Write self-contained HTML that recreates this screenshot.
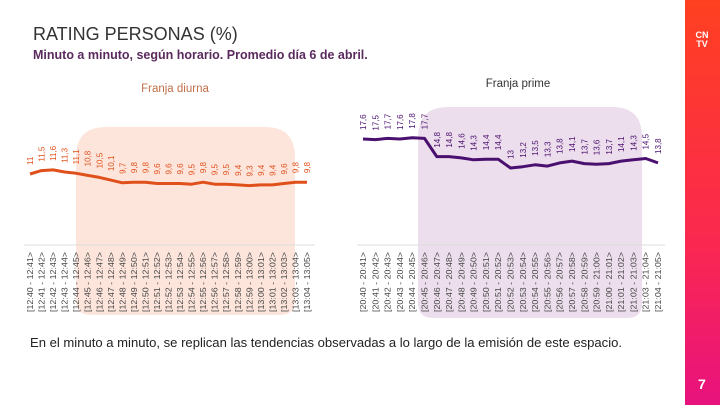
<!DOCTYPE html>
<html><head><meta charset="utf-8"><style>
body{margin:0;width:720px;height:405px;overflow:hidden;background:#fff;font-family:"Liberation Sans",sans-serif;}
svg{display:block}
</style></head><body>
<svg id="c" width="720" height="405" xmlns="http://www.w3.org/2000/svg">
<defs><linearGradient id="g" x1="0" y1="0" x2="0" y2="1"><stop offset="0" stop-color="#ff4020"/><stop offset="0.6" stop-color="#fa2850"/><stop offset="1" stop-color="#e8127e"/></linearGradient></defs>
<rect x="685" y="0" width="35" height="405" fill="url(#g)"/>
<text x="702" y="38" font-size="9" font-weight="bold" fill="#fff" text-anchor="middle">CN</text>
<text x="702" y="47" font-size="9" font-weight="bold" fill="#fff" text-anchor="middle">TV</text>
<text x="698" y="389" font-size="14" font-weight="bold" fill="#fff">7</text>
<text x="33" y="40" font-size="18" fill="#333">RATING PERSONAS (%)</text>
<text x="33" y="59" font-size="12.5" font-weight="bold" fill="#5a2a5e">Minuto a minuto, según horario. Promedio día 6 de abril.</text>
<text x="175" y="92" font-size="11.5" fill="#c0704a" text-anchor="middle">Franja diurna</text>
<text x="518" y="87" font-size="11.5" fill="#333" text-anchor="middle">Franja prime</text>
<path d="M76,315 V157 Q76,127 106,127 H265 Q295,127 295,157 V300 Q295,315 280,315 H91 Q76,315 76,300 Z" fill="#fde5dc"/>
<path d="M418,318 V137 Q418,107 448,107 H612 Q642,107 642,137 V303 Q642,318 627,318 H433 Q418,318 418,303 Z" fill="#ecdeec"/>
<line x1="24" y1="245" x2="315" y2="245" stroke="#ddd"/>
<line x1="357" y1="245" x2="665" y2="245" stroke="#ddd"/>
<text x="30" y="347" font-size="12.5" fill="#222" textLength="592" lengthAdjust="spacingAndGlyphs">En el minuto a minuto, se replican las tendencias observadas a lo largo de la emisión de este espacio.</text>
<g id="day"></g><g id="prime"></g>
</svg>
<script>
const dayCats=["12:40 - 12:41","12:41 - 12:42","12:42 - 12:43","12:43 - 12:44","12:44 - 12:45","12:45 - 12:46","12:46 - 12:47","12:47 - 12:48","12:48 - 12:49","12:49 - 12:50","12:50 - 12:51","12:51 - 12:52","12:52 - 12:53","12:53 - 12:54","12:54 - 12:55","12:55 - 12:56","12:56 - 12:57","12:57 - 12:58","12:58 - 12:59","12:59 - 13:00","13:00 - 13:01","13:01 - 13:02","13:02 - 13:03","13:03 - 13:04","13:04 - 13:05"];
const dayVals=[11,11.5,11.6,11.3,11.1,10.8,10.5,10.1,9.7,9.8,9.8,9.6,9.6,9.6,9.5,9.8,9.5,9.5,9.4,9.3,9.4,9.4,9.6,9.8,9.8];
const primeCats=["20:40 - 20:41","20:41 - 20:42","20:42 - 20:43","20:43 - 20:44","20:44 - 20:45","20:45 - 20:46","20:46 - 20:47","20:47 - 20:48","20:48 - 20:49","20:49 - 20:50","20:50 - 20:51","20:51 - 20:52","20:52 - 20:53","20:53 - 20:54","20:54 - 20:55","20:55 - 20:56","20:56 - 20:57","20:57 - 20:58","20:58 - 20:59","20:59 - 21:00","21:00 - 21:01","21:01 - 21:02","21:02 - 21:03","21:03 - 21:04","21:04 - 21:05"];
const primeVals=[17.6,17.5,17.7,17.6,17.8,17.7,14.8,14.8,14.6,14.3,14.4,14.4,13,13.2,13.5,13.3,13.8,14.1,13.7,13.6,13.7,14.1,14.3,14.5,13.8];
const NS="http://www.w3.org/2000/svg";
function draw(gid,cats,vals,x0,x1,vRef,yRef,pxPer,color,name){
  const g=document.getElementById(gid);
  const n=cats.length,step=(x1-x0)/(n-1);
  const xf=i=>x0+i*step, yf=v=>yRef-(v-vRef)*pxPer;
  let d="";
  vals.forEach((v,i)=>{d+=(i?"L":"M")+xf(i).toFixed(1)+","+yf(v).toFixed(1);});
  const p=document.createElementNS(NS,"path");
  p.setAttribute("d",d);p.setAttribute("fill","none");p.setAttribute("stroke",color);p.setAttribute("stroke-width","3");p.setAttribute("stroke-linejoin","round");
  
  
  g.appendChild(p);
  vals.forEach((v,i)=>{
    const t=document.createElementNS(NS,"text");
    const x=xf(i)+3,y=yf(v)-9;
    t.setAttribute("transform","translate("+x+","+y+") rotate(-90)");
    t.setAttribute("font-size","8");t.setAttribute("fill",color);
    t.textContent=String(v).replace(".",",");
    
    
    g.appendChild(t);
  });
  cats.forEach((c,i)=>{
    const t=document.createElementNS(NS,"text");
    const x=xf(i)+3;
    t.setAttribute("transform","translate("+x+",312) rotate(-90)");
    t.setAttribute("font-size","8");t.setAttribute("fill","#444");
    t.setAttribute("textLength","60");t.setAttribute("lengthAdjust","spacingAndGlyphs");
    t.textContent="["+c+">";
    
    
    g.appendChild(t);
  });
}
draw("day",dayCats,dayVals,30,307,11,174,6.8,"#e0501a","day");
draw("prime",primeCats,primeVals,363,658,17.6,139,6.3,"#4a1070","prime");
</script>
</body></html>
